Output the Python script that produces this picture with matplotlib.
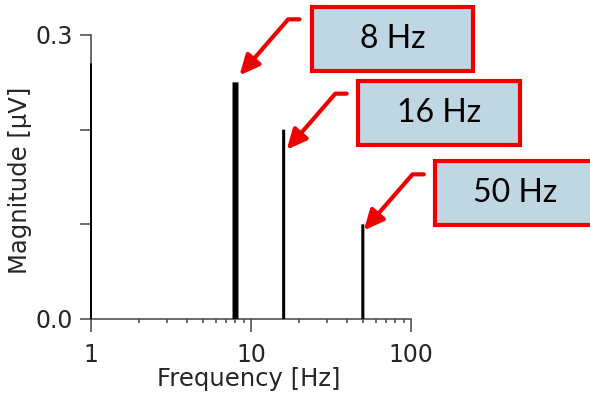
import matplotlib.pyplot as plt
from matplotlib.patches import Rectangle
from matplotlib.transforms import offset_copy

plt.rcParams['font.family'] = ['DejaVu Sans']

# spectrum peaks
freqs = [1, 8, 16, 50]
mags = [0.27, 0.25, 0.2, 0.1]
widths = [1.4, 4.3, 2.2, 2.2]

labels = ["8 Hz", "16 Hz", "50 Hz"]
label_freqs = [8, 16, 50]
label_mags = [0.25, 0.2, 0.1]

W, H = 590, 396
fig = plt.figure(figsize=(W / 100, H / 100), dpi=100)
ax = fig.add_axes([91 / W, 1 - 319 / H, 320 / W, 284 / H])

ax.vlines(freqs, 0, mags, colors="black", linewidths=widths, clip_on=False,
          zorder=3, snap=False)

ax.set_xscale("log")
ax.set_xlim(1, 100)
ax.set_ylim(0, 0.3)
ax.set_xticks([1, 10, 100])
ax.set_xticklabels(["1", "10", "100"])
ax.set_yticks([0, 0.1, 0.2, 0.3])
ax.set_yticklabels(["0.0", "", "", "0.3"])

for s in ["top", "right"]:
    ax.spines[s].set_visible(False)
for s in ["left", "bottom"]:
    ax.spines[s].set_color("#444444")
    ax.spines[s].set_linewidth(1.1)

txtc = "#262626"
ax.tick_params(axis="x", which="major", direction="out", length=9.5, width=1.1,
               pad=8, labelsize=17, colors="#444444", labelcolor=txtc)
ax.tick_params(axis="x", which="minor", direction="out", length=3, width=1.1,
               colors="#444444")
ax.tick_params(axis="y", which="major", direction="out", length=8, width=1.1,
               pad=5, labelsize=17, colors="#444444", labelcolor=txtc)

ax.set_xlabel("Frequency [Hz]", fontsize=17.5, color=txtc)
ax.set_ylabel("Magnitude [µV]", fontsize=17.5, color=txtc)
ax.xaxis.set_label_coords(0.492, -0.17)
ax.yaxis.set_label_coords(-0.184, 0.49)

# callout boxes (pixel layout, top-left origin)
boxes = [(312, 7, 473, 71), (358, 81, 520, 145), (435, 161, 596, 225)]
tip_off = [(4, 7), (3, -20), (1, -6)]
red = "#ee0000"
for lab, f, m, (x0, y0, x1, y1), (dx, dy) in zip(labels, label_freqs, label_mags, boxes, tip_off):
    rect = Rectangle((x0 / W, 1 - y1 / H), (x1 - x0) / W, (y1 - y0) / H,
                     transform=fig.transFigure, facecolor="#bed7e3",
                     edgecolor=red, linewidth=3, clip_on=False)
    fig.add_artist(rect)
    fig.text((x0 + x1) / 2 / W, 1 - (y0 + y1) / 2 / H, lab, family="Lato",
             fontsize=23, ha="center", va="center", color="#000000")
    tr = offset_copy(ax.transData, fig=fig, x=dx, y=dy, units="dots")
    ax.annotate("", xy=(f, m), xycoords=tr, xytext=(60, 56), textcoords="offset pixels",
                arrowprops=dict(arrowstyle="-|>,head_length=0.6,head_width=0.28",
                                mutation_scale=20, color=red, linewidth=3,
                                shrinkA=0, shrinkB=0,
                                connectionstyle="angle,angleA=0,angleB=49,rad=0"),
                annotation_clip=False)

fig.savefig("out.png", dpi=100)
